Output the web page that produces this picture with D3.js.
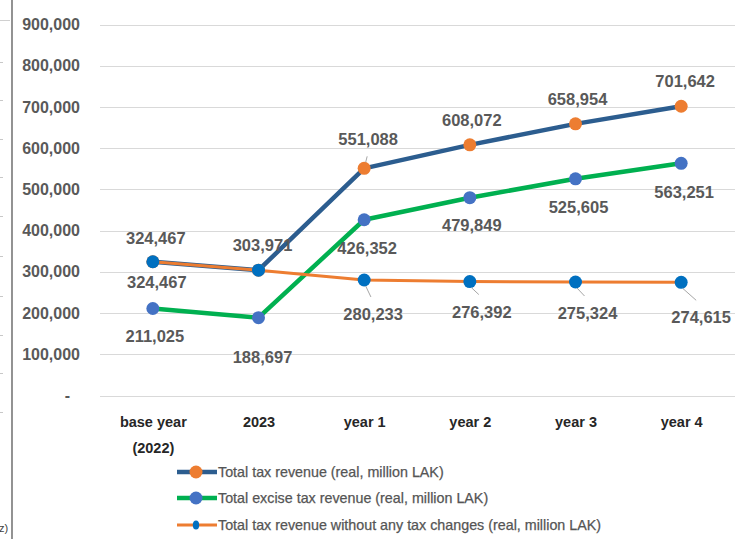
<!DOCTYPE html>
<html>
<head>
<meta charset="utf-8">
<script src="https://cdn.jsdelivr.net/npm/d3@7"></script>
<style>
  body { margin: 0; background: #ffffff; }
  svg { display: block; }
  text { font-family: "Liberation Sans", Arial, sans-serif; }
</style>
</head>
<body>
<svg id="chart" width="744" height="539"></svg>
<script>
// ---- data ----
const categories = ["base year (2022)", "2023", "year 1", "year 2", "year 3", "year 4"];
const totalTax    = [324467, 303971, 551088, 608072, 658954, 701642];
const exciseTax   = [211025, 188697, 426352, 479849, 525605, 563251];
const noChangeTax = [324467, 303971, 280233, 276392, 275324, 274615];
const seriesNames = [
  "Total tax revenue (real, million LAK)",
  "Total excise tax revenue (real, million LAK)",
  "Total tax revenue without any tax changes (real, million LAK)"
];
const yTicks = [0, 100000, 200000, 300000, 400000, 500000, 600000, 700000, 800000, 900000];

// ---- label placement (offset of label centre from its point; null = no label) ----
const totalTaxLabelPos    = [[3, -24], [4, -25], [4, -29, true], [2, -25], [2, -25], [4, -25]];
const exciseTaxLabelPos   = [[2, 28], [4, 39], [3, 28], [2, 27], [3, 28], [3, 29]];
const noChangeTaxLabelPos = [[4, 20], null, [9, 34, true], [12, 30, true], [12, 31, true], [20, 35, true]];

const svg = d3.select("#chart");
const left = 100, right = 734;

const x = d3.scalePoint().domain(categories).range([left, right]).padding(0.5);
const y = d3.scaleLinear().domain([0, 900000]).range([395.5, 24.5]);

// ---- page edge decoration ----
svg.append("line").attr("x1", 12).attr("x2", 12).attr("y1", 0).attr("y2", 539)
  .attr("stroke", "#4a4a4a").attr("stroke-width", 1.2);
svg.append("line").attr("x1", 0).attr("x2", 10).attr("y1", 20.5).attr("y2", 20.5)
  .attr("stroke", "#d0d0d0").attr("stroke-width", 1);
svg.selectAll("line.edge-tick").data([62, 100, 139, 177, 216, 256, 296, 335, 373, 412]).enter()
  .append("line").attr("class", "edge-tick")
  .attr("x1", 0).attr("x2", 3).attr("y1", d => d + 0.5).attr("y2", d => d + 0.5)
  .attr("stroke", "#c8c8c8");
svg.append("text").attr("x", -1).attr("y", 532).attr("font-size", 11)
  .attr("fill", "#404040").text("z)");

// ---- gridlines ----
svg.append("g").selectAll("line").data(yTicks).enter().append("line")
  .attr("x1", left).attr("x2", right + 1)
  .attr("y1", d => Math.round(y(d)) + 0.5).attr("y2", d => Math.round(y(d)) + 0.5)
  .attr("stroke", "#d9d9d9").attr("stroke-width", 1);

// ---- y axis ----
const yAxis = d3.axisLeft(y).tickValues(yTicks).tickSize(0).tickPadding(20)
  .tickFormat(d => d === 0 ? "-" : d3.format(",")(d));
const yg = svg.append("g").attr("transform", `translate(${left},0)`).call(yAxis);
yg.select(".domain").remove();
yg.selectAll("text")
  .attr("font-family", "\"Liberation Sans\", Arial, sans-serif")
  .attr("font-size", 16).attr("font-weight", "bold").attr("fill", "#595959")
  .attr("x", d => d === 0 ? -30 : -20);

// ---- x axis ----
const xAxis = d3.axisBottom(x).tickSize(0).tickPadding(0);
const xg = svg.append("g").attr("transform", `translate(0,${y(0)})`).call(xAxis);
xg.select(".domain").remove();
xg.selectAll("text").each(function(d) {
  const t = d3.select(this);
  const parts = d.indexOf(" (") >= 0 ? [d.slice(0, d.indexOf(" (")), d.slice(d.indexOf(" (") + 1)] : [d];
  t.text(null).attr("y", 0).attr("dy", null)
    .attr("font-family", "\"Liberation Sans\", Arial, sans-serif")
    .attr("font-size", 14.5).attr("font-weight", "bold").attr("fill", "#262626");
  parts.forEach((p, i) => t.append("tspan").attr("x", 0).attr("y", 31 + i * 26).text(p));
});

// ---- series ----
const series = [
  { values: totalTax,    line: "#2c5d8f", width: 4.5, marker: "#ed7d31", r: 6.5, labels: totalTaxLabelPos },
  { values: exciseTax,   line: "#00b050", width: 4.5, marker: "#4472c4", r: 6.5, labels: exciseTaxLabelPos },
  { values: noChangeTax, line: "#ed7d31", width: 3,   marker: "#0070c0", r: 6.5, labels: noChangeTaxLabelPos }
];

const lineGen = d3.line().x((d, i) => x(categories[i])).y(d => y(d));

series.forEach(s => {
  const g = svg.append("g");
  g.append("path").datum(s.values).attr("d", lineGen)
    .attr("fill", "none").attr("stroke", s.line).attr("stroke-width", s.width)
    .attr("stroke-linejoin", "round").attr("stroke-linecap", "round");
  g.selectAll("circle").data(s.values).enter().append("circle")
    .attr("cx", (d, i) => x(categories[i])).attr("cy", d => y(d))
    .attr("r", s.r).attr("fill", s.marker);
});

// ---- data labels ----
const labelLayer = svg.append("g");
series.forEach(s => {
  s.values.forEach((v, i) => {
    const p = s.labels[i];
    if (!p) return;
    const px = x(categories[i]), py = y(v);
    const [dx, dy, leader] = p;
    if (leader) {
      const dir = dy > 0 ? 1 : -1;
      labelLayer.append("line")
        .attr("x1", px + 1.5).attr("y1", py + dir * 6)
        .attr("x2", px + dx * 0.75).attr("y2", py + dy - dir * 17)
        .attr("stroke", "#a6a6a6").attr("stroke-width", 1);
    }
    labelLayer.append("text")
      .attr("x", px + dx).attr("y", py + dy).attr("dy", "0.36em")
      .attr("text-anchor", "middle")
      .attr("font-size", 16.5).attr("font-weight", "bold").attr("fill", "#595959")
      .text(d3.format(",")(v));
  });
});

// ---- legend ----
const legendRows = [472, 498, 525];
const legend = svg.append("g");
series.forEach((s, i) => {
  const ly = legendRows[i];
  legend.append("line").attr("x1", 177).attr("x2", 217).attr("y1", ly).attr("y2", ly)
    .attr("stroke", s.line).attr("stroke-width", i === 2 ? 3 : 4.5);
  if (i === 2) {
    legend.append("ellipse").attr("cx", 196).attr("cy", ly).attr("rx", 3.2).attr("ry", 4.5)
      .attr("fill", s.marker);
  } else {
    legend.append("circle").attr("cx", 196).attr("cy", ly).attr("r", 6.5).attr("fill", s.marker);
  }
  legend.append("text").attr("x", 218).attr("y", ly).attr("dy", "0.36em")
    .attr("font-size", 14.3).attr("fill", "#555555")
    .attr("stroke", "#555555").attr("stroke-width", 0.25)
    .text(seriesNames[i]);
});
</script>
</body>
</html>
